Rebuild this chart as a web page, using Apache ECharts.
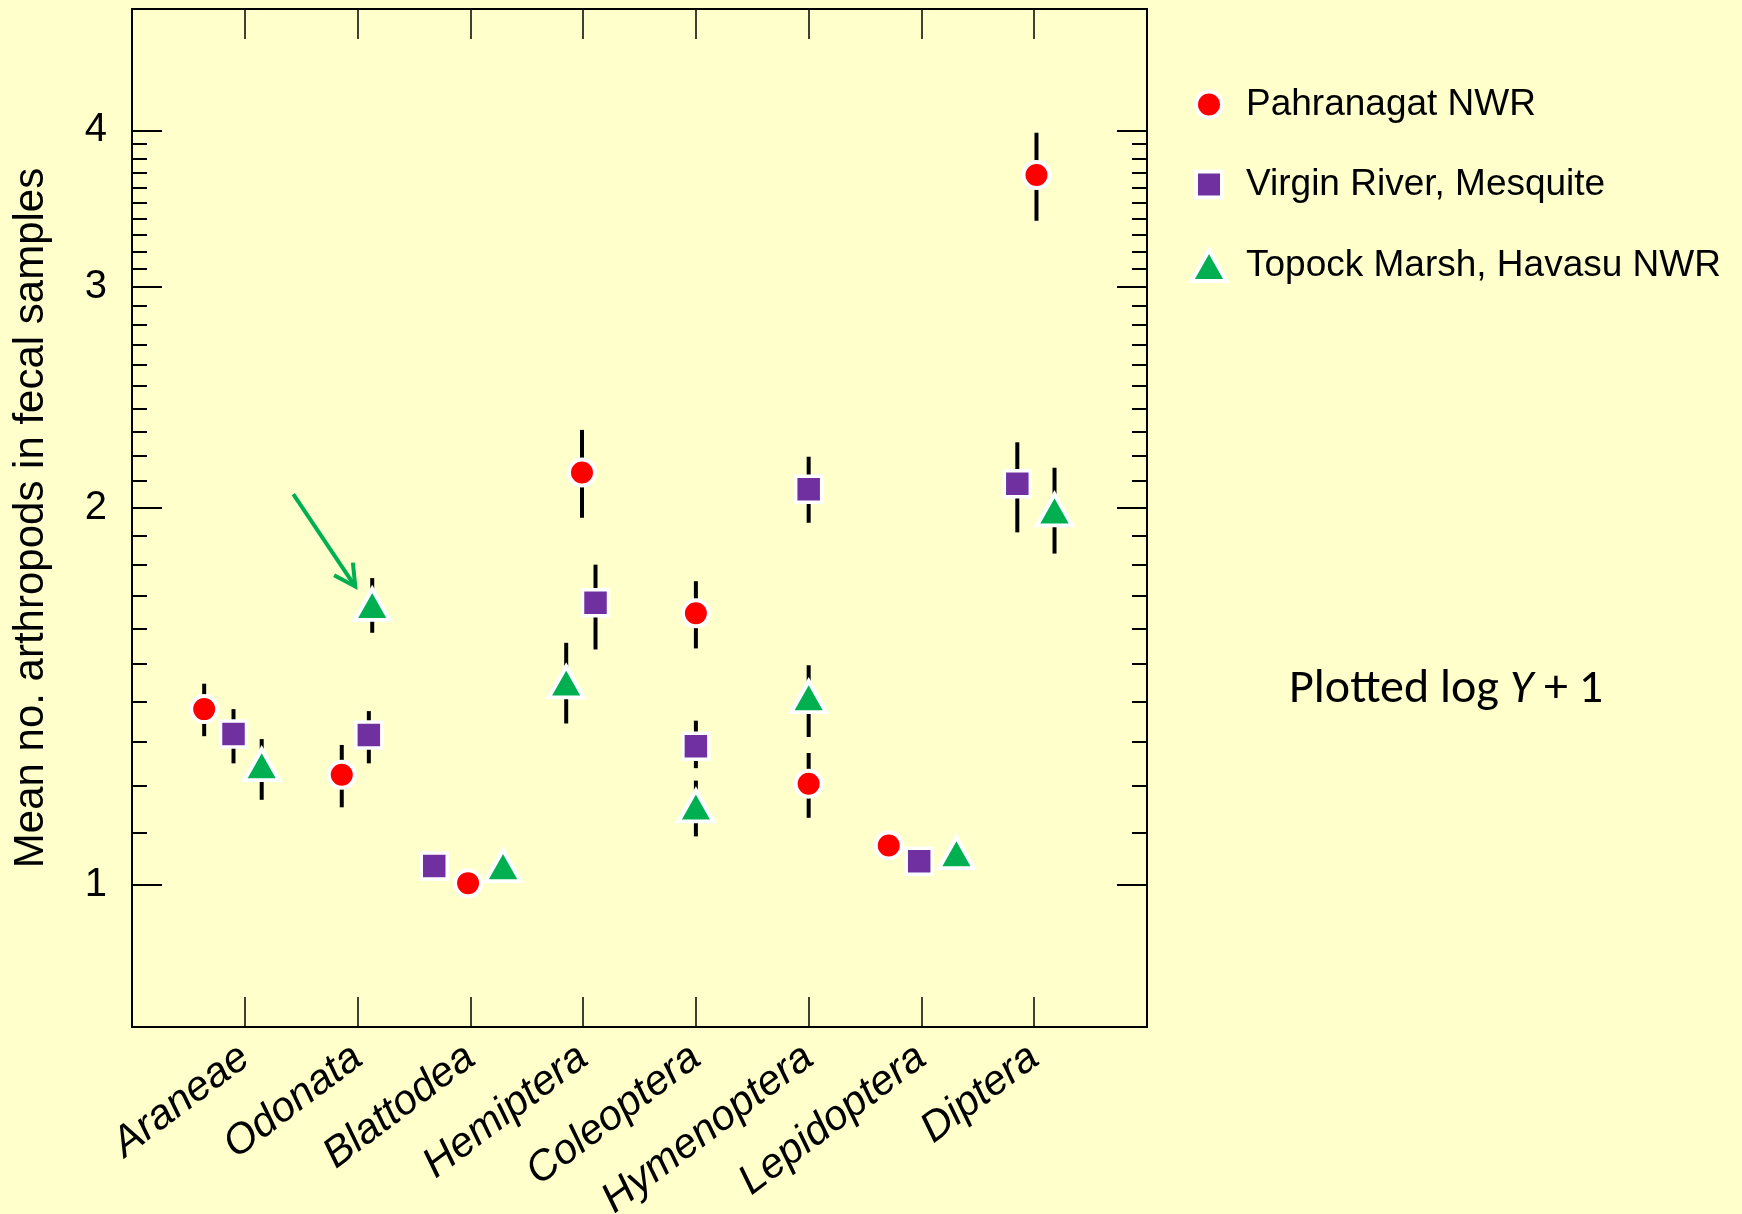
<!DOCTYPE html>
<html>
<head>
<meta charset="utf-8">
<script src="https://cdn.jsdelivr.net/npm/echarts@6/dist/echarts.min.js"></script>
<style>
  html, body { margin: 0; padding: 0; background: #FFFFCC; }
  #chart { width: 1742px; height: 1214px; }
</style>
</head>
<body>
<div id="chart"></div>
<script>
/* arthropods in fecal samples — 3 sites, mean +/- error, log axis */

const categories = ['Araneae', 'Odonata', 'Blattodea', 'Hemiptera', 'Coleoptera', 'Hymenoptera', 'Lepidoptera', 'Diptera'];
const seriesNames = ['Pahranagat NWR', 'Virgin River, Mesquite', 'Topock Marsh, Havasu NWR'];

// category k sits at x = k; markers are nudged sideways like in the original
const pahrX    = [0.64, 1.86, 2.98, 3.99, 5.00, 6.00, 6.71, 8.02];
const pahrMean = [1.381, 1.224, 1.003, 2.133, 1.647, 1.204, 1.075, 3.685];
const pahrLo   = [1.314, 1.153, null, 1.963, 1.544, 1.131, null, 3.388];
const pahrHi   = [1.447, 1.293, null, 2.307, 1.747, 1.274, null, 3.983];

const virgX    = [0.90, 2.10, 2.68, 4.11, 5.00, 6.00, 6.98, 7.85];
const virgMean = [1.319, 1.317, 1.035, 1.679, 1.290, 2.069, 1.044, 2.090];
const virgLo   = [1.250, 1.250, null, 1.541, 1.239, 1.945, null, 1.911];
const virgHi   = [1.381, 1.376, null, 1.801, 1.352, 2.196, null, 2.255];

const topoX    = [1.15, 2.13, 3.29, 3.85, 5.00, 6.00, 7.31, 8.18];
const topoMean = [1.247, 1.674, 1.036, 1.452, 1.156, 1.413, 1.061, 1.992];
const topoLo   = [1.169, 1.589, null, 1.345, 1.093, 1.312, null, 1.838];
const topoHi   = [1.307, 1.757, null, 1.560, 1.211, 1.497, null, 2.152];

const xTicks = [1, 2, 3, 4, 5, 6, 7, 8];
const yMajor = [1, 2, 3, 4];
const yMinor = [1.1, 1.2, 1.3, 1.4, 1.5, 1.6, 1.7, 1.8, 1.9,
                2.1, 2.2, 2.3, 2.4, 2.5, 2.6, 2.7, 2.8, 2.9,
                3.1, 3.2, 3.3, 3.4, 3.5, 3.6, 3.7, 3.8, 3.9];

// green arrow pointing at the Odonata triangle
const arrowFrom = [1.43, 2.05];
const arrowTo   = [1.98, 1.73];

const RED = '#FF0000', PURPLE = '#7030A0', GREEN = '#00B050';
const FONT = '"Liberation Sans", Arial, Helvetica, sans-serif';

// ---- axes ----
const yBase = { type: 'log', logBase: 10, min: 0.77, max: 5, splitLine: { show: false } };
function yAxisOf(position, ticks, len, labels) {
  return Object.assign({}, yBase, {
    position,
    axisLine: { show: true, lineStyle: { color: '#000', width: 2 } },
    axisTick: { show: true, inside: true, length: len, customValues: ticks, lineStyle: { color: '#000', width: 2 } },
    axisLabel: labels
      ? { show: true, customValues: yMajor, margin: 25, fontSize: 40, color: '#000', fontFamily: FONT }
      : { show: false },
  });
}

function xAxisOf(position, labels) {
  return {
    type: 'value', min: 0, max: 9, position,
    splitLine: { show: false },
    axisLine: { show: true, lineStyle: { color: '#000', width: 2 } },
    axisTick: { show: true, inside: true, length: 30, customValues: xTicks, lineStyle: { color: '#000', width: 1.5 } },
    axisLabel: labels
      ? {
          show: true, customValues: xTicks, rotate: 37, margin: 26,
          fontSize: 42, fontStyle: 'italic', color: '#000', fontFamily: FONT,
          formatter: (v) => categories[Math.round(v) - 1] || '',
        }
      : { show: false },
  };
}

// ---- series helpers ----
function errBars(xs, lo, hi) {
  return {
    type: 'custom', silent: true, z: 1,
    renderItem: (params, api) => {
      const a = api.coord([api.value(0), api.value(1)]);
      const b = api.coord([api.value(0), api.value(2)]);
      return { type: 'line', shape: { x1: a[0], y1: a[1], x2: b[0], y2: b[1] }, style: { stroke: '#000', lineWidth: 4 } };
    },
    data: xs.map((x, i) => (lo[i] == null ? null : [x, lo[i], hi[i]])).filter(Boolean),
  };
}

function dots(name, xs, ys, symbol, size, color, bw) {
  return {
    type: 'scatter', name, symbol, symbolSize: size, z: 3,
    itemStyle: { color, borderColor: '#fff', borderWidth: bw, opacity: 1 },
    data: xs.map((x, i) => [x, ys[i]]),
  };
}

const arrowSeries = {
  type: 'custom', silent: true, z: 2,
  renderItem: (params, api) => {
    const p0 = api.coord([api.value(0), api.value(1)]);
    const p1 = api.coord([api.value(2), api.value(3)]);
    const ang = Math.atan2(p1[1] - p0[1], p1[0] - p0[0]);
    const head = 24, spread = 28 * Math.PI / 180;
    const h1 = [p1[0] - head * Math.cos(ang - spread), p1[1] - head * Math.sin(ang - spread)];
    const h2 = [p1[0] - head * Math.cos(ang + spread), p1[1] - head * Math.sin(ang + spread)];
    return {
      type: 'group', children: [
        { type: 'line', shape: { x1: p0[0], y1: p0[1], x2: p1[0], y2: p1[1] }, style: { stroke: GREEN, lineWidth: 4 } },
        { type: 'polyline', shape: { points: [h1, p1, h2] }, style: { stroke: GREEN, lineWidth: 4, fill: null } },
      ],
    };
  },
  data: [[arrowFrom[0], arrowFrom[1], arrowTo[0], arrowTo[1]]],
};

// ---- legend: one block per site so each icon keeps its own size ----
function legendRow(name, top, w, h) {
  return {
    data: [name], orient: 'vertical', left: 1207 - w / 2, top, padding: 0,
    itemWidth: w, itemHeight: h, selectedMode: false,
    itemStyle: { borderColor: '#fff', borderWidth: 4 },
    textStyle: { fontSize: 37, color: '#000', fontFamily: FONT, padding: [0, 0, 0, 32 - w / 2] },
  };
}

const chart = echarts.init(document.getElementById('chart'));
chart.setOption({
  animation: false,
  backgroundColor: '#FFFFCC',
  grid: { left: 132, right: 595, top: 9, bottom: 187, outerBoundsMode: 'none' },
  xAxis: [xAxisOf('bottom', true), xAxisOf('top', false)],
  yAxis: [
    Object.assign(yAxisOf('left', yMajor, 30, true), {
      name: 'Mean no. arthropods in fecal samples', nameLocation: 'middle', nameGap: 80,
      nameTextStyle: { fontSize: 42, color: '#000', fontFamily: FONT },
    }),
    yAxisOf('left', yMinor, 15, false),
    yAxisOf('right', yMajor, 30, false),
    yAxisOf('right', yMinor, 15, false),
  ],
  legend: [
    legendRow(seriesNames[0], 86, 26, 26),
    legendRow(seriesNames[1], 166, 26, 26),
    legendRow(seriesNames[2], 247, 35, 31),
  ],
  graphic: [{
    type: 'text', x: 1289, y: 690,
    style: {
      text: '{a|Plotted log }{i|Y}{a| + 1}', verticalAlign: 'middle',
      rich: {
        a: { fontSize: 48, fontFamily: 'Carlito, Calibri, Lato, sans-serif', fill: '#000' },
        i: { fontSize: 48, fontFamily: 'Carlito, Calibri, Lato, sans-serif', fontStyle: 'italic', fill: '#000' },
      },
    },
  }],
  series: [
    errBars(pahrX, pahrLo, pahrHi),
    errBars(virgX, virgLo, virgHi),
    errBars(topoX, topoLo, topoHi),
    arrowSeries,
    dots(seriesNames[0], pahrX, pahrMean, 'circle', 26, RED, 4),
    dots(seriesNames[1], virgX, virgMean, 'rect', 26, PURPLE, 3.5),
    dots(seriesNames[2], topoX, topoMean, 'triangle', [35, 31], GREEN, 4),
  ],
});
</script>
</body>
</html>
